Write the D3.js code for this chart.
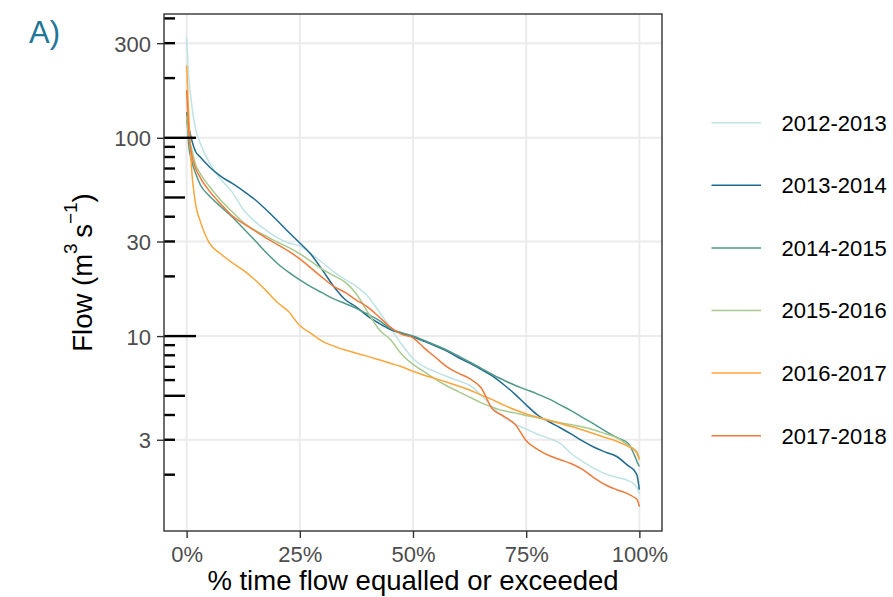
<!DOCTYPE html>
<html>
<head>
<meta charset="utf-8">
<script src="https://cdn.jsdelivr.net/npm/d3@7"></script>
<style>
  html, body { margin: 0; padding: 0; background: #ffffff; }
  svg { display: block; font-family: "Liberation Sans", Arial, Helvetica, sans-serif; }
</style>
</head>
<body>
<svg id="chart" width="893" height="597"></svg>
<script>
// Flow duration curves: % of time a flow is equalled or exceeded, per hydrological year
const exceedancePct = [0, 0.5, 1, 2, 3, 5, 7.5, 10, 12.5, 15, 17.5, 20, 22.5, 25, 27.5, 30,
  32.5, 35, 37.5, 40, 42.5, 45, 47.5, 50, 52.5, 55, 57.5, 60, 62.5, 65, 67.5, 70, 72.5, 75,
  77.5, 80, 82.5, 85, 87.5, 90, 92.5, 95, 97.5, 99, 99.5, 100];

const flow2012_2013 = [323, 200, 155, 110, 94, 75, 62, 53.5, 43.5, 38, 34.2, 31.4, 29.5, 28.5, 26, 23.5,
  21.1, 19.3, 17.8, 15.9, 13.3, 11.0, 9.1, 7.7, 7.0, 6.6, 6.25, 5.95, 5.65, 5.05, 4.4, 3.9, 3.6, 3.4,
  3.2, 3.05, 2.88, 2.55, 2.33, 2.15, 2.02, 1.94, 1.87, 1.78, 1.72, 1.6];
const flow2013_2014 = [122, 112, 100, 85, 80, 71.5, 64, 59, 54, 49, 43.5, 38.3, 33.5, 29.5, 25.8, 21.5,
  17.8, 15.3, 14.0, 12.6, 11.6, 10.8, 10.3, 9.9, 9.4, 8.9, 8.4, 7.8, 7.3, 6.8, 6.3, 5.7, 5.1, 4.5,
  4.0, 3.7, 3.45, 3.2, 2.95, 2.75, 2.6, 2.47, 2.22, 2.08, 1.98, 1.68];
const flow2014_2015 = [135, 90, 78, 66, 58, 51, 45, 40, 35, 30.5, 26.5, 23.3, 21, 19.2, 17.7, 16.5,
  15.4, 14.6, 13.8, 12.9, 12.0, 10.9, 10.4, 10.0, 9.5, 9.0, 8.5, 7.95, 7.4, 6.9, 6.4, 6.0, 5.65, 5.37,
  5.1, 4.82, 4.5, 4.2, 3.88, 3.6, 3.32, 3.08, 2.88, 2.48, 2.32, 2.2];
const flow2015_2016 = [128, 100, 90, 73, 66, 57, 48.5, 42.5, 37.5, 34.3, 32, 29.8, 28, 26, 23.8, 21.7,
  20.2, 18.7, 16.3, 13.2, 10.8, 9.6, 8.1, 7.2, 6.6, 6.05, 5.6, 5.25, 4.92, 4.62, 4.38, 4.2, 4.1, 3.97,
  3.87, 3.76, 3.66, 3.57, 3.48, 3.36, 3.22, 3.08, 2.82, 2.67, 2.6, 2.43];
const flow2016_2017 = [232, 125, 75, 46, 38, 29.5, 26, 23.5, 21.5, 19.3, 17, 14.8, 13.3, 11.3, 10.3, 9.4,
  8.9, 8.5, 8.2, 7.9, 7.6, 7.3, 7.0, 6.65, 6.35, 6.1, 5.85, 5.6, 5.35, 5.05, 4.78, 4.5, 4.25, 4.05,
  3.9, 3.76, 3.62, 3.5, 3.36, 3.22, 3.08, 2.95, 2.78, 2.65, 2.55, 2.37];
const flow2017_2018 = [174, 105, 85, 70, 63, 54, 46.5, 40.5, 37, 34, 31.3, 29, 26.8, 24.5, 22, 19.7,
  17.8, 16.6, 15.2, 14.0, 12.5, 11.1, 10.2, 9.8, 8.7, 7.8, 7.0, 6.5, 6.1, 5.5, 4.3, 3.95, 3.6, 2.97,
  2.68, 2.5, 2.38, 2.27, 2.12, 1.93, 1.78, 1.68, 1.6, 1.53, 1.5, 1.38];

const seasons = ["2012-2013", "2013-2014", "2014-2015", "2015-2016", "2016-2017", "2017-2018"];
const seasonFlows = [flow2012_2013, flow2013_2014, flow2014_2015, flow2015_2016, flow2016_2017, flow2017_2018];
const seasonColors = ["#bfe3e5", "#1f6b8e", "#52998a", "#a8c98e", "#fba53a", "#ee7a3b"];

const xTicks = [0, 25, 50, 75, 100];
const yTicks = [3, 10, 30, 100, 300];

const svg = d3.select("#chart");
const W = 893, H = 597;
const panel = { left: 164, right: 662, top: 14, bottom: 531 };

svg.append("rect").attr("width", W).attr("height", H).attr("fill", "#ffffff");

const x = d3.scaleLinear().domain([-5, 105]).range([panel.left, panel.right]);
const y = d3.scaleLog().domain([1.04, 421]).range([panel.bottom, panel.top]);

// major grid
const grid = svg.append("g");
grid.selectAll("line.gx").data(xTicks).join("line")
  .attr("x1", d => x(d)).attr("x2", d => x(d))
  .attr("y1", panel.top).attr("y2", panel.bottom)
  .attr("stroke", "#ebebeb").attr("stroke-width", 2);
grid.selectAll("line.gy").data(yTicks).join("line")
  .attr("x1", panel.left).attr("x2", panel.right)
  .attr("y1", d => y(d)).attr("y2", d => y(d))
  .attr("stroke", "#ebebeb").attr("stroke-width", 2);

// clip region for the curves
svg.append("clipPath").attr("id", "panelClip")
  .append("rect").attr("x", panel.left).attr("y", panel.top)
  .attr("width", panel.right - panel.left).attr("height", panel.bottom - panel.top);

const line = d3.line()
  .x(d => x(d[0]))
  .y(d => y(d[1]))
  .curve(d3.curveMonotoneX);

const curves = svg.append("g").attr("clip-path", "url(#panelClip)");
seasons.forEach((s, i) => {
  const pts = exceedancePct.map((p, j) => [p, seasonFlows[i][j]]);
  curves.append("path")
    .datum(pts)
    .attr("d", line)
    .attr("fill", "none")
    .attr("stroke", seasonColors[i])
    .attr("stroke-width", 1.5)
    .attr("stroke-linejoin", "round");
});

// log ticks along the left edge of the panel
const logTicks = [];
for (let k = 0; k <= 2; k++) {
  for (let m = 1; m <= 9; m++) {
    const v = m * Math.pow(10, k);
    const [lo, hi] = y.domain();
    if (v >= lo && v <= hi) logTicks.push({ v, len: m === 1 ? 32 : (m === 5 ? 21 : 11) });
  }
}
svg.append("g").selectAll("line").data(logTicks).join("line")
  .attr("x1", panel.left).attr("x2", d => panel.left + d.len)
  .attr("y1", d => y(d.v)).attr("y2", d => y(d.v))
  .attr("stroke", "#000000").attr("stroke-width", 2.4);

// panel border
svg.append("rect")
  .attr("x", panel.left).attr("y", panel.top)
  .attr("width", panel.right - panel.left).attr("height", panel.bottom - panel.top)
  .attr("fill", "none").attr("stroke", "#333333").attr("stroke-width", 1.4);

// axes
const xAxis = svg.append("g")
  .attr("transform", `translate(0,${panel.bottom})`)
  .call(d3.axisBottom(x).tickValues(xTicks).tickSize(7).tickPadding(4).tickFormat(d => d + "%"));
const yAxis = svg.append("g")
  .attr("transform", `translate(${panel.left},0)`)
  .call(d3.axisLeft(y).tickValues(yTicks).tickSize(7).tickPadding(6).tickFormat(d3.format("d")));

[xAxis, yAxis].forEach(a => {
  a.select(".domain").remove();
  a.selectAll(".tick line").attr("stroke", "#333333").attr("stroke-width", 1.4);
  a.selectAll(".tick text")
    .attr("fill", "#4d4d4d")
    .style("font-size", "22px")
    .style("font-family", "'Liberation Sans', Arial, sans-serif");
});
xAxis.selectAll(".tick text").attr("dy", null).attr("y", 31);
yAxis.selectAll(".tick text").attr("dy", "0.36em");

// axis titles
svg.append("text")
  .attr("x", (panel.left + panel.right) / 2).attr("y", 590)
  .attr("text-anchor", "middle")
  .style("font-size", "27.5px").attr("fill", "#000000")
  .text("% time flow equalled or exceeded");

const yTitle = svg.append("text")
  .attr("transform", `translate(92,${(panel.top + panel.bottom) / 2}) rotate(-90)`)
  .attr("text-anchor", "middle")
  .style("font-size", "27.5px").attr("fill", "#000000");
yTitle.append("tspan").text("Flow (m");
yTitle.append("tspan").attr("dy", -15).style("font-size", "19px").text("3");
yTitle.append("tspan").attr("dy", 15).text("\u2009s");
yTitle.append("tspan").attr("dy", -15).style("font-size", "19px").text("\u22121");
yTitle.append("tspan").attr("dy", 15).text(")");

// panel tag
svg.append("text")
  .attr("x", 29).attr("y", 43)
  .style("font-size", "31px").attr("fill", "#1f7697")
  .text("A)");

// legend
const legend = svg.append("g");
seasons.forEach((s, i) => {
  const cy = 122.7 + i * 62.6;
  legend.append("line")
    .attr("x1", 711.5).attr("x2", 761)
    .attr("y1", cy).attr("y2", cy)
    .attr("stroke", seasonColors[i]).attr("stroke-width", 1.5);
  legend.append("text")
    .attr("x", 781.5).attr("y", cy).attr("dy", "0.36em")
    .style("font-size", "22px").attr("fill", "#000000")
    .text(s);
});
</script>
</body>
</html>
